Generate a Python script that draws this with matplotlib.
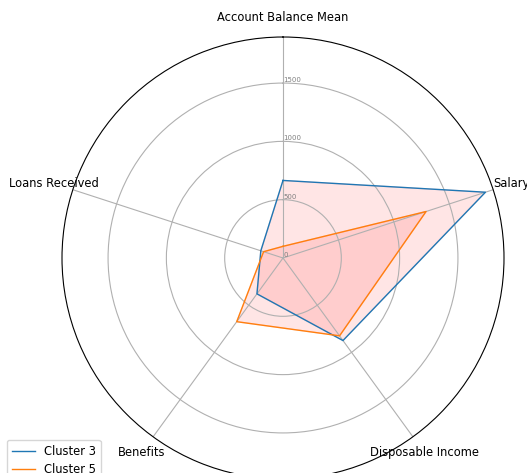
import numpy as np
import matplotlib

matplotlib.use("Agg")
import matplotlib.pyplot as plt

categories = ["Account Balance Mean", "Salary", "Disposable Income", "Benefits", "Loans Received"]
cluster_3 = [665, 1825, 875, 380, 200]
cluster_5 = [100, 1290, 825, 675, 175]
r_ticks = [0, 500, 1000, 1500]
r_max = 1895

angles = np.linspace(0, 2 * np.pi, len(categories), endpoint=False).tolist()
angles += angles[:1]

fig = plt.figure(figsize=(5.27, 4.73), dpi=100)
ax = fig.add_axes([62 / 527, -6 / 473, 442 / 527, 442 / 473], polar=True)
ax.set_theta_offset(np.pi / 2)
ax.set_theta_direction(-1)

for name, vals, color in [("Cluster 3", cluster_3, "C0"), ("Cluster 5", cluster_5, "C1")]:
    v = vals + vals[:1]
    ax.plot(angles, v, color=color, linewidth=1, label=name)
    ax.fill(angles, v, color="red", alpha=0.1)

ax.set_xticks(angles[:-1])
ax.set_xticklabels(categories, fontsize=8.3)
ax.set_rlabel_position(0)
ax.set_yticks(r_ticks)
ax.set_yticklabels([str(t) for t in r_ticks], color="grey", fontsize=5)
ax.set_ylim(0, r_max)

ax.legend(loc="upper left", bbox_to_anchor=(7 / 527, 1 - 440 / 473),
          bbox_transform=fig.transFigure, borderaxespad=0, fontsize=8.3)

fig.savefig("out.png", dpi=100)
